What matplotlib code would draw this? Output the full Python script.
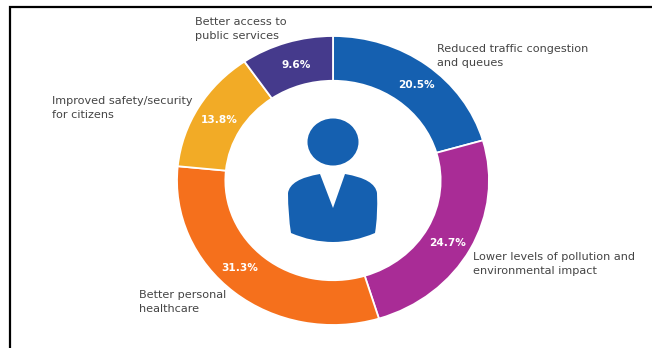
import matplotlib
matplotlib.use("Agg")
import matplotlib.pyplot as plt
from matplotlib.patches import Ellipse, PathPatch
from matplotlib.path import Path

etiquetas = ["Reduced traffic congestion\nand queues",
             "Lower levels of pollution and\nenvironmental impact",
             "Better personal\nhealthcare",
             "Improved safety/security\nfor citizens",
             "Better access to\npublic services"]
valores = [20.5, 24.7, 31.3, 13.8, 9.6]
cores = ["#1560b0", "#a92c96", "#f5701c", "#f2ab26", "#453a8c"]

W, H = 652, 348
fig = plt.figure(figsize=(W / 100, H / 100), dpi=100)

# donut, a bit wider than tall
cx, cy, rx, ry = 333, 180.5, 156, 144.5
ax = fig.add_axes([(cx - rx) / W, 1 - (cy + ry) / H, 2 * rx / W, 2 * ry / H])
fatias, _ = ax.pie(valores, colors=cores, startangle=90, counterclock=False, radius=1,
                   wedgeprops=dict(width=0.31, edgecolor="white", linewidth=1.3))
ax.set_aspect("auto")
ax.set_xlim(-1, 1)
ax.set_ylim(-1, 1)

# percentages sit on the ring
pos_pct = [(416, 85), (448, 243), (240, 268), (219, 120), (296, 65)]

# overlay in pixel units for text, frame and the person icon
ov = fig.add_axes([0, 0, 1, 1])
ov.set_xlim(0, W)
ov.set_ylim(H, 0)
ov.axis("off")
ov.patch.set_alpha(0)

for v, (x, y) in zip(valores, pos_pct):
    ov.text(x, y, f"{v}%", color="white", fontsize=7.6, fontweight="bold",
            ha="center", va="center", family="DejaVu Sans")

pos_lab = [(437, 56), (473, 264), (139, 302), (52, 108), (195, 29)]
for t, (x, y) in zip(etiquetas, pos_lab):
    ov.text(x, y, t, color="#444444", fontsize=8.1, ha="left", va="center",
            linespacing=1.42, family="DejaVu Sans")

# frame, only on top and left
ov.plot([9.5, 9.5, W], [H, 6.5, 6.5], color="black", lw=1.6, solid_joinstyle="miter")

# person icon
azul = "#1560b0"
ov.add_patch(Ellipse((333, 142), 51, 47, color=azul, lw=0))
corpo = Path(
    [(333, 208), (320, 174),
     (290, 179), (288, 193),
     (288, 215), (291, 233),
     (312, 242), (333, 242),
     (354, 242), (375, 233),
     (378, 215), (377, 193),
     (375, 179), (345, 174),
     (333, 208)],
    [Path.MOVETO, Path.LINETO,
     Path.CURVE3, Path.CURVE3,
     Path.CURVE3, Path.CURVE3,
     Path.CURVE3, Path.CURVE3,
     Path.CURVE3, Path.CURVE3,
     Path.CURVE3, Path.CURVE3,
     Path.CURVE3, Path.CURVE3,
     Path.LINETO])
ov.add_patch(PathPatch(corpo, facecolor=azul, edgecolor="none"))

fig.savefig("out.png", dpi=100)
